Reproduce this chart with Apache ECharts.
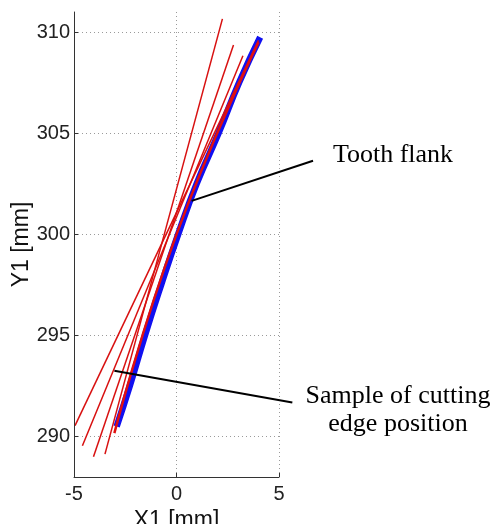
<!DOCTYPE html>
<html>
<head>
<meta charset="utf-8">
<script src="https://cdn.jsdelivr.net/npm/echarts@6/dist/echarts.min.js"></script>
<style>
  html, body { margin: 0; padding: 0; background: #fff; }
  #chart { width: 495px; height: 524px; }
</style>
</head>
<body>
<div id="chart"></div>
<script>
// tick values
const xTicks = [-5, 0, 5]
const yTicks = [290, 295, 300, 305, 310]

// tooth flank (blue curve)
const flankX = [-2.92, -2.28, -1.54, -0.75, 0.08, 0.98, 2.05, 3.05, 4.08]
const flankY = [290.5, 292.5, 295, 297.5, 300, 302.5, 305, 307.5, 309.75]

// sampled cutting edge positions (red straight lines): start and end points
const edgeStartX = [-3.49, -4.05, -4.59, -4.95]
const edgeStartY = [289.13, 289.0, 289.55, 290.54]
const edgeEndX = [2.24, 2.78, 3.24, 4.0]
const edgeEndY = [310.66, 309.37, 308.84, 309.6]

// edge position lying along the flank
const nearFlankX = [-3.03, 0.0, 4.0]
const nearFlankY = [290.17, 300.0, 309.5]

// annotation pointers (data coords, run past the x axis end)
const flankPointer = [[0.74, 301.66], [6.66, 303.64]]
const edgePointer = [[-3.03, 293.25], [5.65, 291.68]]

const chart = echarts.init(document.getElementById('chart'))

const zip = (xs, ys) => xs.map((x, i) => [x, ys[i]])

let series = []

// dotted grid drawn with markLine
series.push({
  type: 'line',
  data: [],
  silent: true,
  markLine: {
    z: 1,
    silent: true,
    symbol: 'none',
    animation: false,
    label: { show: false },
    lineStyle: { color: '#9a9a9a', type: [1, 3], width: 1 },
    data: yTicks.map(v => ({ yAxis: v })).concat(xTicks.slice(1).map(v => ({ xAxis: v }))),
  },
})

series.push({
  type: 'line',
  data: zip(flankX, flankY),
  smooth: true,
  showSymbol: false,
  lineStyle: { color: '#1010f0', width: 6.5 },
  z: 3,
})

edgeStartX.forEach((x, i) => {
  series.push({
    type: 'line',
    data: [[x, edgeStartY[i]], [edgeEndX[i], edgeEndY[i]]],
    showSymbol: false,
    lineStyle: { color: '#d81010', width: 1.5 },
    z: 4,
  })
})

series.push({
  type: 'line',
  data: zip(nearFlankX, nearFlankY),
  smooth: true,
  showSymbol: false,
  lineStyle: { color: '#e01010', width: 2.5 },
  z: 4,
})

const option = {
  animation: false,
  grid: { left: 74, right: 216, top: 12, bottom: 47, outerBoundsMode: 'none', containLabel: false },
  xAxis: {
    type: 'value',
    min: -5,
    max: 5,
    interval: 5,
    z: 6,
    name: 'X1 [mm]',
    nameLocation: 'middle',
    nameGap: 29,
    nameTextStyle: { fontFamily: 'Liberation Sans', fontSize: 23, color: '#111' },
    axisLine: { show: true, onZero: false, lineStyle: { color: '#333' } },
    axisTick: { show: true, inside: true, length: 4, lineStyle: { color: '#333' } },
    axisLabel: { fontFamily: 'Liberation Sans', fontSize: 20, color: '#222', margin: 7 },
    splitLine: { show: false },
  },
  yAxis: {
    type: 'value',
    min: 288,
    max: 311,
    z: 6,
    name: 'Y1 [mm]',
    nameLocation: 'middle',
    nameGap: 39,
    nameTextStyle: { fontFamily: 'Liberation Sans', fontSize: 23, color: '#111' },
    axisLine: { show: true, onZero: false, lineStyle: { color: '#333' } },
    axisTick: { show: true, inside: true, length: 4, customValues: yTicks, lineStyle: { color: '#333' } },
    axisLabel: { fontFamily: 'Liberation Sans', fontSize: 20, color: '#222', margin: 4, customValues: yTicks },
    splitLine: { show: false },
  },
  series: series,
}

chart.setOption(option)

// pointer lines and callout texts
const toPx = p => chart.convertToPixel({ gridIndex: 0 }, p)
const pointerLine = p => {
  const a = toPx(p[0])
  const b = toPx(p[1])
  return {
    type: 'line',
    z: 10,
    shape: { x1: a[0], y1: a[1], x2: b[0], y2: b[1] },
    style: { stroke: '#000', lineWidth: 2 },
  }
}

chart.setOption({
  graphic: [
    pointerLine(flankPointer),
    pointerLine(edgePointer),
    {
      type: 'text',
      x: 393,
      y: 155,
      style: {
        text: 'Tooth flank',
        font: '26px "Liberation Serif"',
        fill: '#000',
        textAlign: 'center',
        textVerticalAlign: 'middle',
      },
    },
    {
      type: 'text',
      x: 398,
      y: 410.5,
      style: {
        text: 'Sample of cutting\nedge position',
        font: '26px "Liberation Serif"',
        lineHeight: 28,
        fill: '#000',
        textAlign: 'center',
        textVerticalAlign: 'middle',
      },
    },
  ],
})
</script>
</body>
</html>
